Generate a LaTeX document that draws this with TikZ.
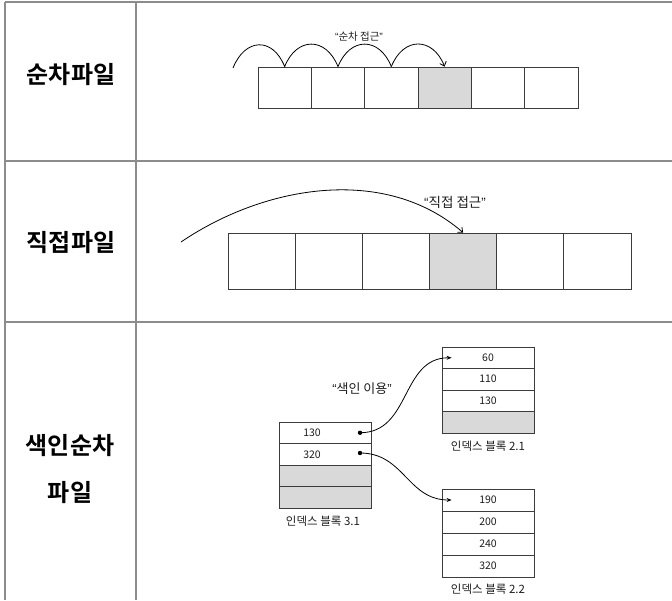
\documentclass[tikz,border=0pt]{standalone}
\usepackage{fontspec}
\setmainfont{Noto Sans CJK KR}[BoldFont={Noto Sans CJK KR Bold}]
\newfontfamily\latinq{Liberation Sans}
\newcommand\myqo{{\latinq “}}
\newcommand\myqc{{\latinq ”}}
\usetikzlibrary{arrows.meta}
\definecolor{tblline}{RGB}{140,140,140}
\definecolor{boxline}{RGB}{60,60,60}
\definecolor{cellgray}{RGB}{217,217,217}
\definecolor{txt}{RGB}{30,30,30}
\tikzset{
  tbl/.style={draw=tblline, line width=1.3pt},
  cellbox/.style={draw=boxline, line width=0.8pt, rectangle, inner sep=0pt, fill=white},
  graycell/.style={cellbox, fill=cellgray},
  title/.style={font=\fontsize{24}{47}\selectfont\bfseries, text=black, align=center, inner sep=0pt},
  hop/.style={draw=black, line width=0.8pt},
  smalllbl/.style={font=\fontsize{10.5}{12}\selectfont, text=txt, inner sep=0pt},
  numtxt/.style={font=\fontsize{10.5}{12}\selectfont, text=txt},
  blocklbl/.style={font=\fontsize{11.5}{13}\selectfont, text=txt, inner sep=0pt},
  ptr/.style={draw=black, line width=0.8pt, -{Stealth[length=5pt,width=4pt]}},
  barb/.style={-{Straight Barb[length=4pt,width=7pt]}}
}
\begin{document}
\begin{tikzpicture}[x=1pt,y=-1pt]
\useasboundingbox (0,0) rectangle (672,600);
% table
\draw[tbl] (5,2) -- (672,2);
\draw[tbl] (5,2) -- (5,600);
\draw[tbl] (136,2) -- (136,600);
\draw[tbl] (5,161) -- (672,161);
\draw[tbl] (5,322) -- (672,322);

% titles
\node[title] (t1) at (71,75) {순차파일};
\node[title] (t2) at (71,243) {직접파일};
\node[title] (t3) at (70,469) {색인순차\\파일};

% row 1: sequential
\foreach \i in {1,...,6}
  \node[cellbox, minimum width=53.33pt, minimum height=41pt] (s\i) at ({258+53.33*(\i-0.5)},87.5) {};
\node[graycell, minimum width=53.33pt, minimum height=41pt] at (s4) {};
\coordinate (s0) at (233,68);
\draw[hop] (s0) .. controls +(12,-30) and +(-12,-30) .. (s1.north)
  .. controls +(12,-30) and +(-12,-30) .. (s2.north)
  .. controls +(12,-30) and +(-12,-30) .. (s3.north);
\draw[hop, barb] (s3.north) .. controls +(12,-30) and +(-12,-30) .. (s4.north);
\node[smalllbl] (l1) at (359,37) {\myqo 순차 접근\myqc};

% row 2: direct
\foreach \i in {1,...,6}
  \node[cellbox, minimum width=67.17pt, minimum height=56pt] (d\i) at ({228+67.17*(\i-0.5)},261) {};
\node[graycell, minimum width=67.17pt, minimum height=56pt] at (d4) {};
\coordinate (d0) at (181,242);
\draw[hop, barb] (d0) .. controls (265,185) and (385,165) .. (d4.north);
\node[font=\fontsize{13.5}{15}\selectfont, text=txt, inner sep=0pt] (l2) at (455,202) {\myqo 직접 접근\myqc};

% row 3: indexed sequential
% block 3.1
\node[cellbox, minimum width=92pt, minimum height=21.5pt] (a1) at (325,432.75) {};
\node[cellbox, minimum width=92pt, minimum height=21.5pt] (a2) at (325,454.25) {};
\node[graycell, minimum width=92pt, minimum height=21.5pt] (a3) at (325,475.75) {};
\node[graycell, minimum width=92pt, minimum height=21.5pt] (a4) at (325,497.25) {};
\node[numtxt] (n1) at (312,432.75) {130};
\node[numtxt] (n2) at (312,454.25) {320};
\node[blocklbl] (la) at (323,521) {인덱스 블록 3.1};
% block 2.1
\node[cellbox, minimum width=92pt, minimum height=21.5pt, numtxt] (b1) at (488,357.75) {60};
\node[cellbox, minimum width=92pt, minimum height=21.5pt, numtxt] (b2) at (488,379.25) {110};
\node[cellbox, minimum width=92pt, minimum height=21.5pt, numtxt] (b3) at (488,400.75) {130};
\node[graycell, minimum width=92pt, minimum height=21.5pt] (b4) at (488,422.25) {};
\node[blocklbl] (lb) at (488,446) {인덱스 블록 2.1};
% block 2.2
\node[cellbox, minimum width=92pt, minimum height=22pt, numtxt] (c1) at (488,500) {190};
\node[cellbox, minimum width=92pt, minimum height=22pt, numtxt] (c2) at (488,522) {200};
\node[cellbox, minimum width=92pt, minimum height=22pt, numtxt] (c3) at (488,544) {240};
\node[cellbox, minimum width=92pt, minimum height=22pt, numtxt] (c4) at (488,566) {320};
\node[blocklbl] (lc) at (488,589) {인덱스 블록 2.2};

% pointers
\coordinate (p1) at (360,432.75);
\coordinate (p2) at (360,453);
\fill (p1) circle (2.2pt);
\fill (p2) circle (2.2pt);
\draw[ptr] (p1) to[out=0, in=180, looseness=1.1] ([xshift=10pt]b1.west);
\draw[ptr] (p2) to[out=0, in=180, looseness=1.1] ([xshift=10pt]c1.west);
\node[font=\fontsize{13}{15}\selectfont, text=txt, inner sep=0pt] (l3) at (362,389) {\myqo 색인 이용\myqc};
\end{tikzpicture}
\end{document}
